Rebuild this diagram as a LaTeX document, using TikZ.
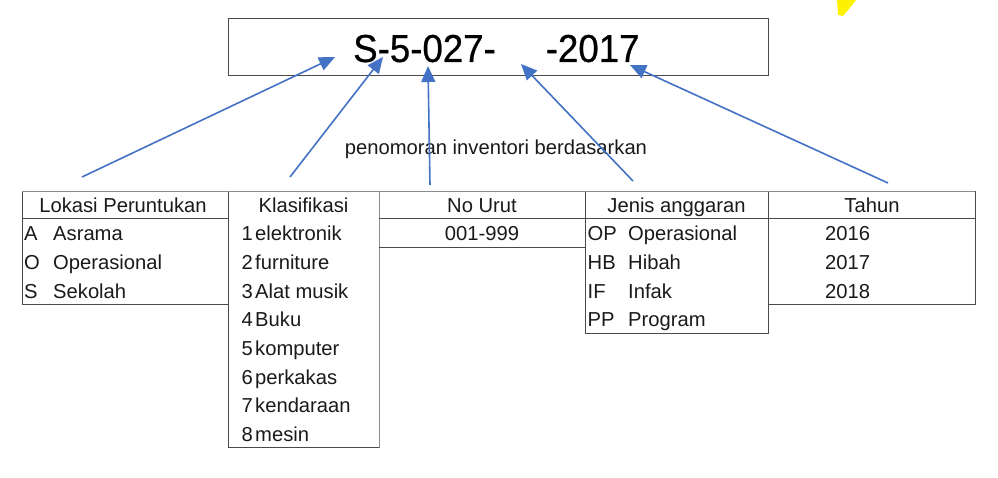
\documentclass[tikz,border=0pt]{standalone}
\usepackage{fontspec}
\setmainfont{Liberation Sans}
\newfontfamily\titlefont[FakeStretch=0.94,FakeBold=0.6]{Liberation Sans}
\usetikzlibrary{arrows.meta}
\definecolor{arrowblue}{HTML}{4472C4}
\definecolor{linegray}{HTML}{4A4A4A}
\definecolor{softgray}{HTML}{8C8C8C}
\definecolor{blobyellow}{HTML}{FFF200}
\definecolor{txtcol}{HTML}{1A1A1A}
\begin{document}
\begin{tikzpicture}[x=1pt,y=-1pt,
  txt/.style={inner sep=0pt,font=\fontsize{20.2}{24}\selectfont,text=txtcol},
  big/.style={inner sep=0pt,font=\titlefont\fontsize{39}{46}\selectfont,text=black},
  tbl/.style={draw=linegray,line width=0.9pt},
  soft/.style={draw=softgray,line width=0.9pt},
  arr/.style={draw=arrowblue,line width=1.6pt,-{Triangle[length=16pt,width=14pt]}}]
\useasboundingbox[fill=white] (0,0) rectangle (998,478);

% yellow blob
\fill[blobyellow] (837,0) -- (856,0) -- (849,9) -- (843,16) -- (838,15) -- cycle;

% title box
\node[draw=linegray,line width=0.9pt,minimum width=540pt,minimum height=57pt,inner sep=0pt] (titlebox) at (498,46.5) {};
\node[big,anchor=base west] (code) at (353,62) {S-5-027-\hspace{50pt}-2017};

% caption
\node[txt,anchor=base] (caption) at (496,155) {penomoran inventori berdasarkan};

% table frames
\draw[tbl] (22,191) rectangle (228,304);
\draw[tbl] (22,218) -- (228,218);
\draw[soft] (228,191) rectangle (379,447);
\draw[tbl] (228,191) -- (228,447) -- (379,447);
\draw[soft] (379,191) -- (585,191);
\draw[tbl] (379,218) -- (585,218);
\draw[tbl] (379,247) -- (585,247);
\draw[tbl] (585,191) rectangle (768,333);
\draw[tbl] (585,218) -- (768,218);
\draw[tbl] (768,191) rectangle (975,304);
\draw[tbl] (768,218) -- (975,218);
\draw[soft] (22,191) -- (975,191);

% headers
\node[txt,anchor=base] (hLok) at (123,212.3) {Lokasi Peruntukan};
\node[txt,anchor=base] (hKla) at (303.5,212.3) {Klasifikasi};
\node[txt,anchor=base] (hNo) at (482,212.3) {No Urut};
\node[txt,anchor=base] (hJen) at (676.5,212.3) {Jenis anggaran};
\node[txt,anchor=base] (hTah) at (872,212.3) {Tahun};

% Lokasi
\node[txt,anchor=base west] (lA) at (24,241) {A};
\node[txt,anchor=base west] (lAw) at (53,241) {Asrama};
\node[txt,anchor=base west] (lO) at (24,269.6) {O};
\node[txt,anchor=base west] (lOw) at (53,269.6) {Operasional};
\node[txt,anchor=base west] (lS) at (24,298.2) {S};
\node[txt,anchor=base west] (lSw) at (53,298.2) {Sekolah};

% Klasifikasi
\foreach \n/\w [count=\i from 0] in {1/elektronik,2/furniture,3/Alat musik,4/Buku,5/komputer,6/perkakas,7/kendaraan,8/mesin}{
  \node[txt,anchor=base west] (kn\n) at (241.5,241+28.6*\i) {\n};
  \node[txt,anchor=base west] (kw\n) at (255,241+28.6*\i) {\w};
}

% No Urut
\node[txt,anchor=base] (nrange) at (482,241) {001-999};

% Jenis anggaran
\node[txt,anchor=base west] (jOP) at (587.5,241) {OP};
\node[txt,anchor=base west] (jOPw) at (628,241) {Operasional};
\node[txt,anchor=base west] (jHB) at (587.5,269.6) {HB};
\node[txt,anchor=base west] (jHBw) at (628,269.6) {Hibah};
\node[txt,anchor=base west] (jIF) at (587.5,298.2) {IF};
\node[txt,anchor=base west] (jIFw) at (628,298.2) {Infak};
\node[txt,anchor=base west] (jPP) at (587.5,326.8) {PP};
\node[txt,anchor=base west] (jPPw) at (628,326.8) {Program};

% Tahun
\node[txt,anchor=base west] (t16) at (825,241) {2016};
\node[txt,anchor=base west] (t17) at (825,269.6) {2017};
\node[txt,anchor=base west] (t18) at (825,298.2) {2018};

% arrows
\coordinate (a1) at (82,177);   \coordinate (b1) at (335,57);
\coordinate (a2) at (290,177);  \coordinate (b2) at (383,57);
\coordinate (a3) at (430,185);  \coordinate (b3) at (428,66);
\coordinate (a4) at (633,181);  \coordinate (b4) at (521,64);
\coordinate (a5) at (888,183);  \coordinate (b5) at (630,65);
\draw[arr] (a1) -- (b1);
\draw[arr] (a2) -- (b2);
\draw[arr] (a3) -- (b3);
\draw[arr] (a4) -- (b4);
\draw[arr] (a5) -- (b5);
\end{tikzpicture}
\end{document}
